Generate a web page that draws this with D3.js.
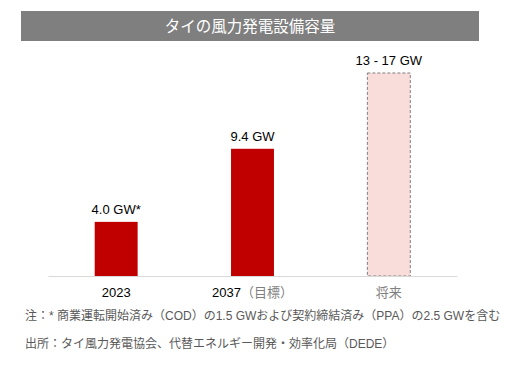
<!DOCTYPE html>
<html><head><meta charset="utf-8">
<script src="https://cdn.jsdelivr.net/npm/d3@7"></script>
<style>
body{margin:0;background:#fff;}
svg{display:block;}
text{font-family:"Liberation Sans","Noto Sans CJK JP",sans-serif;}
</style></head>
<body>
<script>
const title = "タイの風力発電設備容量";
const categories = ["2023", "2037（目標）", "将来"];
const values = [4.0, 9.4, 15];
const valueLabels = ["4.0 GW*", "9.4 GW", "13 - 17 GW"];
const projected = [false, false, true];
const notes = [
  "注：* 商業運転開始済み（COD）の1.5 GWおよび契約締結済み（PPA）の2.5 GWを含む",
  "出所：タイ風力発電協会、代替エネルギー開発・効率化局（DEDE）"
];

const W = 515, H = 369;
const svg = d3.select("body").append("svg").attr("width", W).attr("height", H);

// title bar
svg.append("rect").attr("x", 21).attr("y", 11).attr("width", 458).attr("height", 30).attr("fill", "#7f7f7f");
svg.append("text").attr("x", 250).attr("y", 31.5).attr("text-anchor", "middle")
  .attr("fill", "#fff").attr("font-size", 15.5).text(title);

const x = d3.scaleBand().domain(categories).range([48, 457]).paddingInner(0.685).paddingOuter(0.3425);
const y = d3.scaleLinear().domain([0, 15]).range([276, 73]);

const g = svg.append("g");
g.selectAll("rect.bar").data(categories).join("rect")
  .attr("class", "bar")
  .attr("x", d => x(d))
  .attr("y", (d, i) => y(values[i]))
  .attr("width", x.bandwidth())
  .attr("height", (d, i) => y(0) - y(values[i]))
  .attr("fill", (d, i) => projected[i] ? "#f9dddb" : "#c00000")
  .attr("stroke", (d, i) => projected[i] ? "#7f7f7f" : "none")
  .attr("stroke-dasharray", "3,2")
  .attr("stroke-width", 1);

// baseline axis
const axis = d3.axisBottom(x).tickSize(0).tickPadding(0);
const ax = svg.append("g").attr("transform", "translate(0,276)").call(axis);
ax.select(".domain").attr("stroke", "#d9d9d9").attr("stroke-width", 1.2);
ax.selectAll(".tick text")
  .attr("font-size", 13)
  .attr("font-family", "\"Liberation Sans\",\"Noto Sans CJK JP\",sans-serif")
  .attr("fill", (d, i) => projected[i] ? "#7f7f7f" : "#000")
  .attr("dy", 0).attr("y", 21)
  .each(function(d) {
    const k = d.indexOf("（");
    if (k > 0) {
      const t = d3.select(this).text(null);
      t.append("tspan").text(d.slice(0, k));
      t.append("tspan").attr("fill", "#7f7f7f").text(d.slice(k));
    }
  });

// value labels
g.selectAll("text.val").data(categories).join("text")
  .attr("class", "val")
  .attr("x", d => x(d) + x.bandwidth() / 2)
  .attr("y", (d, i) => y(values[i]) - 8)
  .attr("text-anchor", "middle")
  .attr("font-size", 13)
  .attr("fill", "#000")
  .text((d, i) => valueLabels[i]);

// notes
svg.selectAll("text.note").data(notes).join("text")
  .attr("class", "note")
  .attr("x", 25)
  .attr("y", (d, i) => 320 + i * 28)
  .attr("font-size", 12)
  .attr("fill", "#595959")
  .text(d => d);
</script>
</body></html>
